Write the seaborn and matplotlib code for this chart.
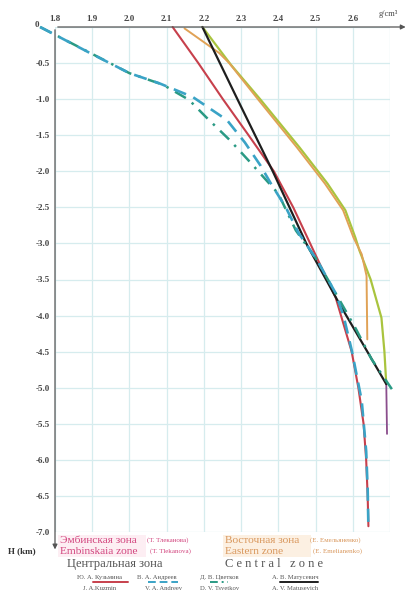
import matplotlib
matplotlib.use("Agg")
import seaborn as sns
from matplotlib import pyplot as plt
from matplotlib.lines import Line2D
from matplotlib.patches import Rectangle

# density (g/cm3) vs depth H (km) for each author
kuzmina_x = [2.116, 2.185, 2.251, 2.32, 2.388, 2.44, 2.49, 2.554, 2.597, 2.615, 2.629, 2.636, 2.64, 2.642]
kuzmina_h = [0, -0.5, -1.0, -1.5, -2.0, -2.5, -3.05, -3.75, -4.5, -5.0, -5.5, -6.0, -6.5, -6.92]

andreev_x = [1.76, 1.89, 2.0, 2.08, 2.17, 2.262, 2.31, 2.352, 2.38, 2.42, 2.455, 2.505, 2.554, 2.575, 2.598, 2.624, 2.636, 2.64, 2.642]
andreev_h = [0, -0.35, -0.64, -0.78, -0.97, -1.29, -1.6, -1.92, -2.17, -2.5, -2.86, -3.24, -3.69, -4.0, -4.5, -5.18, -5.88, -6.4, -6.94]

tsvetkov_x = [1.76, 2.0, 2.09, 2.16, 2.206, 2.27, 2.32, 2.40, 2.447, 2.50, 2.555, 2.61, 2.65, 2.705]
tsvetkov_h = [0, -0.64, -0.8, -1.01, -1.25, -1.57, -1.85, -2.31, -2.82, -3.2, -3.7, -4.2, -4.6, -5.02]

matusevich_x = [2.196, 2.29, 2.385, 2.475, 2.56, 2.69]
matusevich_h = [0, -1.0, -2.0, -3.0, -3.8, -4.95]

east_x = [2.148, 2.241, 2.268, 2.345, 2.45, 2.525, 2.574, 2.602, 2.624, 2.637, 2.639]
east_h = [-0.02, -0.36, -0.5, -1.0, -1.67, -2.17, -2.54, -2.92, -3.15, -3.45, -4.33]

emba_x = [2.196, 2.272, 2.351, 2.457, 2.532, 2.58, 2.607, 2.618, 2.648, 2.677, 2.685, 2.69]
emba_h = [0, -0.52, -1.0, -1.67, -2.17, -2.54, -2.92, -3.1, -3.5, -4.03, -4.5, -4.95]

emba_tail_x = [2.69, 2.692]
emba_tail_h = [-4.95, -5.64]

x_ticks = [1.8, 1.9, 2.0, 2.1, 2.2, 2.3, 2.4, 2.5, 2.6, 2.7]
x_ticklabels = ["1.8", "1.9", "2.0", "2.1", "2.2", "2.3", "2.4", "2.5", "2.6", ""]
h_ticks = [0, -0.5, -1.0, -1.5, -2.0, -2.5, -3.0, -3.5, -4.0, -4.5, -5.0, -5.5, -6.0, -6.5, -7.0]
h_ticklabels = [""] + ["%.1f" % v for v in h_ticks[1:]]

sns.set_style("white")
plt.rcParams["font.family"] = ["Liberation Serif", "DejaVu Serif"]

fig = plt.figure(figsize=(4.1, 5.92), dpi=100)
ax = fig.add_axes([55 / 410, 1 - 532 / 592, 335 / 410, 505 / 592])

sns.lineplot(x=emba_x, y=emba_h, sort=False, estimator=None, color="#a9c43e", lw=1.6, ax=ax)
sns.lineplot(x=emba_tail_x, y=emba_tail_h, sort=False, estimator=None, color="#8a4d8c", lw=1.3, ax=ax)
sns.lineplot(x=east_x, y=east_h, sort=False, estimator=None, color="#e0a256", lw=1.4, ax=ax)
sns.lineplot(x=kuzmina_x, y=kuzmina_h, sort=False, estimator=None, color="#c7404c", lw=1.5, ax=ax)
sns.lineplot(x=matusevich_x, y=matusevich_h, sort=False, estimator=None, color="#1e1e1e", lw=1.6, ax=ax)
sns.lineplot(x=tsvetkov_x, y=tsvetkov_h, sort=False, estimator=None, color="#2a9a84", lw=1.8,
             linestyle=(0, (5, 3, 1, 3)), ax=ax)
sns.lineplot(x=andreev_x, y=andreev_h, sort=False, estimator=None, color="#3aa3c6", lw=1.9,
             linestyle=(0, (5, 3)), ax=ax)
for ln in ax.lines:
    ln.set_clip_on(False)

ax.set_xlim(1.8, 2.7)
ax.set_ylim(-7.0, 0)
ax.set_xticks(x_ticks)
ax.set_xticklabels(x_ticklabels)
ax.set_yticks(h_ticks)
ax.set_yticklabels(h_ticklabels)
ax.xaxis.tick_top()
ax.tick_params(axis="both", length=0, labelsize=6.5, labelcolor="#444444")
ax.tick_params(axis="x", pad=3)
ax.tick_params(axis="y", pad=4)
for lab in ax.get_xticklabels() + ax.get_yticklabels():
    lab.set_fontweight("bold")
ax.grid(True, color="#d6ecee", lw=0.9)
for s in ax.spines.values():
    s.set_visible(False)
ax.set_xlabel("")
ax.set_ylabel("")

# axes with arrows
ax.annotate("", xy=(1.055, 1), xytext=(0, 1), xycoords="axes fraction",
            arrowprops=dict(arrowstyle="-|>", color="#555555", lw=0.9, mutation_scale=7))
ax.annotate("", xy=(0, -0.04), xytext=(0, 1), xycoords="axes fraction",
            arrowprops=dict(arrowstyle="-|>", color="#555555", lw=0.9, mutation_scale=7))

fig.text(37 / 410, 1 - 25 / 592, "0", fontsize=6.5, color="#444444", fontweight="bold",
         ha="center", va="center")
fig.text(388 / 410, 1 - 14 / 592, "g/cm³", fontsize=6, color="#444444", ha="center", va="center")
fig.text(8 / 410, 1 - 551 / 592, "H (km)", fontsize=6.5, color="#333333", fontweight="bold", va="center")

# manual legend
pink = "#d2457e"
tan = "#d9975c"
fig.add_artist(Rectangle((58 / 410, 1 - 557 / 592), 88 / 410, 22 / 592, fc="#fdeef3", ec="none",
                         transform=fig.transFigure, zorder=0))
fig.add_artist(Rectangle((223 / 410, 1 - 557 / 592), 88 / 410, 22 / 592, fc="#fcf0e2", ec="none",
                         transform=fig.transFigure, zorder=0))

fig.text(60 / 410, 1 - 540.5 / 592, "Эмбинская зона", fontsize=8.2, color=pink, va="center")
fig.text(147 / 410, 1 - 540.5 / 592, "(Т. Тлеканова)", fontsize=5, color=pink, va="center")
fig.text(60 / 410, 1 - 551 / 592, "Embinskaia zone", fontsize=8.2, color=pink, va="center")
fig.text(150 / 410, 1 - 551 / 592, "(T. Tlekanova)", fontsize=5, color=pink, va="center")

fig.text(225 / 410, 1 - 540.5 / 592, "Восточная зона", fontsize=8.2, color=tan, va="center")
fig.text(310 / 410, 1 - 540.5 / 592, "(Е. Емельяненко)", fontsize=5, color=tan, va="center")
fig.text(225 / 410, 1 - 551 / 592, "Eastern zone", fontsize=8.2, color=tan, va="center")
fig.text(313 / 410, 1 - 551 / 592, "(E. Emelianenko)", fontsize=5, color=tan, va="center")

fig.text(67 / 410, 1 - 564 / 592, "Центральная зона", fontsize=9, color="#555555", va="center")
fig.text(225 / 410, 1 - 564 / 592, "C e n t r a l   z o n e", fontsize=9, color="#555555", va="center")

names_ru = ["Ю. А. Кузьмина", "В. А. Андреев", "Д. В. Цветков", "А. В. Матусевич"]
names_en = ["J. A.Kuzmin", "V. A. Andreev", "D. V. Tsvetkov", "A. V. Matusevich"]
name_pos = [77, 137, 200, 272]
name_pos_en = [83, 145, 200, 272]
for n, p in zip(names_ru, name_pos):
    fig.text(p / 410, 1 - 578 / 592, n, fontsize=4.8, color="#555555", va="center")
for n, p in zip(names_en, name_pos_en):
    fig.text(p / 410, 1 - 588 / 592, n, fontsize=4.8, color="#555555", va="center")

samples = [
    ((93, 128), "#c7404c", "-"),
    ((148, 178), "#3aa3c6", (0, (4, 2))),
    ((210, 228), "#2a9a84", (0, (4, 2, 1, 2))),
    ((280, 318), "#1e1e1e", "-"),
]
for (x0, x1), c, ls in samples:
    fig.add_artist(Line2D([x0 / 410, x1 / 410], [1 - 582 / 592, 1 - 582 / 592],
                          color=c, lw=1.4, linestyle=ls, transform=fig.transFigure))

fig.savefig("out.png", dpi=100)
